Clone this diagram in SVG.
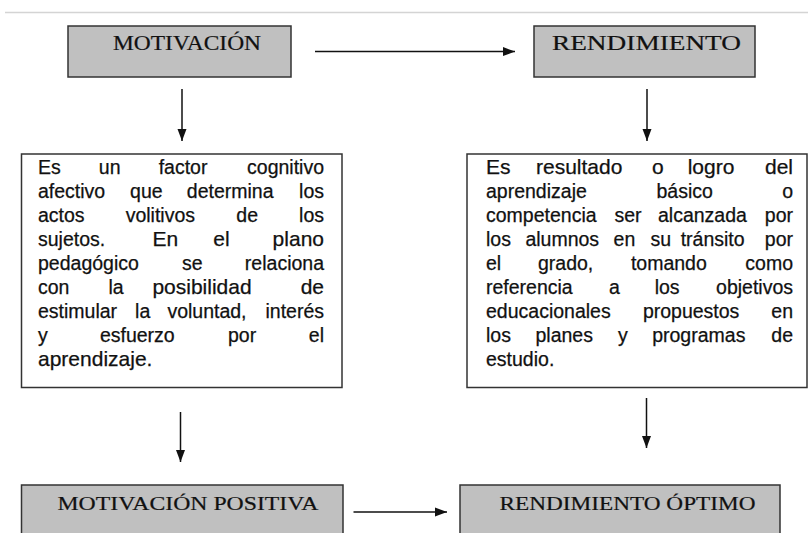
<svg xmlns="http://www.w3.org/2000/svg" width="808" height="533" viewBox="0 0 808 533">
<style>
.box{fill:#c0c0c0;stroke:#333;stroke-width:1.5}
.tbox{fill:#fff;stroke:#333;stroke-width:1.5}
.title{font-family:"Liberation Serif","Times New Roman",serif;fill:#111;stroke:#111;stroke-width:0.2}
.b{font-family:"Liberation Sans",Arial,sans-serif;font-size:19.5px;fill:#111;stroke:#111;stroke-width:0.25}
.L{font-size:21px}
.e{text-anchor:end}
.conn line{stroke:#111;stroke-width:1.5;marker-end:url(#ah)}
</style>
<defs>
<marker id="ah" viewBox="0 0 12 12" refX="12" refY="6" markerWidth="12" markerHeight="12" markerUnits="userSpaceOnUse" orient="auto">
<path d="M0,1.5 L12,6 L0,10.5 Z" fill="#111"/>
</marker>
</defs>
<rect width="808" height="533" fill="#fff"/>
<line x1="5" y1="12.5" x2="808" y2="12.5" stroke="#d4d4d4" stroke-width="1.5"/>

<g id="motivacion">
<rect class="box" x="68" y="26" width="223" height="51"/>
<text class="title" x="113" y="50" font-size="20" textLength="148" lengthAdjust="spacingAndGlyphs">MOTIVACIÓN</text>
</g>

<g id="rendimiento">
<rect class="box" x="534" y="26" width="221" height="51"/>
<text class="title" x="552" y="50" font-size="22" textLength="189" lengthAdjust="spacingAndGlyphs">RENDIMIENTO</text>
</g>

<g id="def-motivacion">
<rect class="tbox" x="21.5" y="154" width="320.5" height="233.5"/>
<g transform="translate(38 0)">
<text class="b" x="0" y="174">Es</text><text class="b" x="60.8" y="174">un</text><text class="b" x="120.7" y="174">factor</text><text class="b e" x="286" y="174">cognitivo</text>
<text class="b" x="0" y="198">afectivo</text><text class="b" x="92.1" y="198">que</text><text class="b" x="148.8" y="198">determina</text><text class="b e" x="286" y="198">los</text>
<text class="b" x="0" y="222">actos</text><text class="b" x="87.7" y="222">volitivos</text><text class="b" x="198.3" y="222">de</text><text class="b e" x="286" y="222">los</text>
<text class="b" x="0" y="246">sujetos.</text><text class="b L" x="114.4" y="246">En</text><text class="b L" x="175.3" y="246">el</text><text class="b L e" x="286" y="246">plano</text>
<text class="b" x="0" y="270">pedagógico</text><text class="b" x="144.1" y="270">se</text><text class="b e" x="286" y="270">relaciona</text>
<text class="b" x="0" y="294">con</text><text class="b" x="70.4" y="294">la</text><text class="b L" x="114.4" y="294">posibilidad</text><text class="b L e" x="286" y="294">de</text>
<text class="b" x="0" y="318">estimular</text><text class="b" x="97.1" y="318">la</text><text class="b" x="129.4" y="318">voluntad,</text><text class="b e" x="286" y="318">interés</text>
<text class="b" x="0" y="342">y</text><text class="b" x="61.9" y="342">esfuerzo</text><text class="b" x="190" y="342">por</text><text class="b e" x="286" y="342">el</text>
<text class="b L" x="0" y="366">aprendizaje.</text>
</g>
</g>

<g id="def-rendimiento">
<rect class="tbox" x="467" y="154" width="340" height="233.5"/>
<g transform="translate(486 0)">
<text class="b L" x="0" y="174">Es</text><text class="b L" x="50" y="174">resultado</text><text class="b L" x="165.9" y="174">o</text><text class="b L" x="201.7" y="174">logro</text><text class="b L e" x="307" y="174">del</text>
<text class="b" x="0" y="198">aprendizaje</text><text class="b" x="170.5" y="198">básico</text><text class="b e" x="307" y="198">o</text>
<text class="b" x="0" y="222">competencia</text><text class="b" x="128.4" y="222">ser</text><text class="b" x="172" y="222">alcanzada</text><text class="b e" x="307" y="222">por</text>
<text class="b" x="0" y="246">los</text><text class="b" x="39.4" y="246">alumnos</text><text class="b" x="127.6" y="246">en</text><text class="b" x="164.5" y="246">su</text><text class="b" x="194.7" y="246">tránsito</text><text class="b e" x="307" y="246">por</text>
<text class="b" x="0" y="270">el</text><text class="b" x="52" y="270">grado,</text><text class="b" x="144.9" y="270">tomando</text><text class="b e" x="307" y="270">como</text>
<text class="b" x="0" y="294">referencia</text><text class="b" x="122.9" y="294">a</text><text class="b" x="168.7" y="294">los</text><text class="b e" x="307" y="294">objetivos</text>
<text class="b" x="0" y="318">educacionales</text><text class="b" x="156.9" y="318">propuestos</text><text class="b e" x="307" y="318">en</text>
<text class="b" x="0" y="342">los</text><text class="b" x="49.5" y="342">planes</text><text class="b" x="132" y="342">y</text><text class="b" x="166.2" y="342">programas</text><text class="b e" x="307" y="342">de</text>
<text class="b" x="0" y="366">estudio.</text>
</g>
</g>

<g id="motivacion-positiva">
<rect class="box" x="21.5" y="485" width="321.5" height="60"/>
<text class="title" x="57.5" y="510" font-size="19" textLength="261" lengthAdjust="spacingAndGlyphs">MOTIVACIÓN POSITIVA</text>
</g>

<g id="rendimiento-optimo">
<rect class="box" x="460" y="485" width="320" height="60"/>
<text class="title" x="499.5" y="510" font-size="19" textLength="256" lengthAdjust="spacingAndGlyphs">RENDIMIENTO ÓPTIMO</text>
</g>

<g class="conn" id="connectors">
<line x1="315" y1="51.5" x2="515" y2="51.5"/>
<line x1="182" y1="89" x2="182" y2="141"/>
<line x1="647" y1="89" x2="647" y2="141"/>
<line x1="180.5" y1="412" x2="180.5" y2="462"/>
<line x1="646.5" y1="398" x2="646.5" y2="448"/>
<line x1="353.5" y1="512" x2="447" y2="512"/>
</g>
</svg>
